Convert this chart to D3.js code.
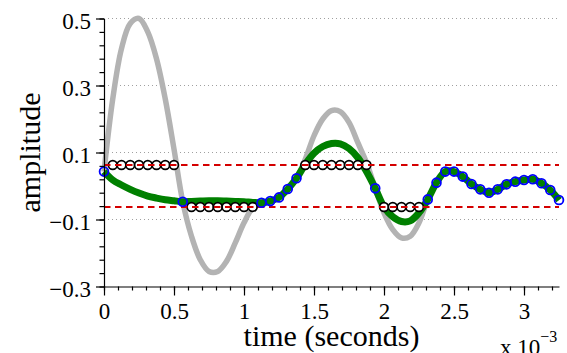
<!DOCTYPE html>
<html>
<head>
<meta charset="utf-8">
<script src="https://cdn.jsdelivr.net/npm/d3@7"></script>
<style>
  body { margin: 0; background: #fff; }
  svg { display: block; }
  text { font-family: "Liberation Serif", "Times New Roman", serif; fill: #000; }
</style>
</head>
<body>
<svg id="chart" width="567" height="353"></svg>
<script>
// sample grid: 16 kHz -> 0.0625 ms per sample
const sampleStepMs = 0.0625;
const sampleIndex = d3.range(53);

// original (continuous) signal, read at the sample instants
const originalValues = [
  0.043, 0.26, 0.41, 0.485, 0.50, 0.46, 0.38, 0.26, 0.11, -0.047,
  -0.15, -0.22, -0.255, -0.255, -0.225, -0.17, -0.11, -0.065, -0.05, -0.045,
  -0.034, -0.009, 0.023, 0.08, 0.15, 0.20, 0.225, 0.222, 0.19, 0.13,
  0.07, -0.007, -0.08, -0.13, -0.155, -0.15, -0.11, -0.04, 0.010, 0.043,
  0.043, 0.028, 0.006, -0.010, -0.020, -0.010, 0.005, 0.013, 0.018, 0.020,
  0.008, -0.012, -0.042
];

// reconstructed signal (green)
const reconValues = [
  0.043, 0.018, 0.003, -0.010, -0.021, -0.030, -0.036, -0.041, -0.044, -0.047,
  -0.046, -0.045, -0.044, -0.044, -0.045, -0.046, -0.047, -0.049, -0.050, -0.045,
  -0.034, -0.009, 0.023, 0.065, 0.098, 0.118, 0.127, 0.126, 0.112, 0.085,
  0.043, -0.007, -0.062, -0.092, -0.106, -0.104, -0.080, -0.040, 0.010, 0.043,
  0.043, 0.028, 0.006, -0.010, -0.020, -0.010, 0.005, 0.013, 0.018, 0.020,
  0.008, -0.012, -0.042
];

const clipLevel = 0.0625;
const xTicks = [0, 0.5, 1, 1.5, 2, 2.5, 3];
const yTicks = [-0.3, -0.1, 0.1, 0.3, 0.5];

const svg = d3.select("#chart");

const x = d3.scaleLinear().domain([0, 3.25]).range([104, 559]);
const y = d3.scaleLinear().domain([-0.3, 0.5]).range([286.5, 18.5]);

const samples = sampleIndex.map(i => ({
  t: i * sampleStepMs,
  orig: originalValues[i],
  recon: reconValues[i],
  clipped: Math.abs(originalValues[i]) >= clipLevel
}));

// dotted horizontal grid
svg.append("g")
  .selectAll("line")
  .data(yTicks.filter(d => d > -0.3))
  .enter().append("line")
  .attr("x1", x(0)).attr("x2", x(3.25))
  .attr("y1", d => y(d)).attr("y2", d => y(d))
  .attr("stroke", "#a0a0a0")
  .attr("stroke-width", 1)
  .attr("stroke-dasharray", "1,3");

const line = (key) => d3.line()
  .x(d => x(d.t))
  .y(d => y(d[key]))
  .curve(d3.curveCatmullRom);

svg.append("path")
  .datum(samples)
  .attr("fill", "none")
  .attr("stroke", "#b3b3b3")
  .attr("stroke-width", 5.5)
  .attr("d", line("orig"));

svg.append("path")
  .datum(samples)
  .attr("fill", "none")
  .attr("stroke", "#008000")
  .attr("stroke-width", 7)
  .attr("d", line("recon"));

// clipped samples
svg.append("g")
  .selectAll("circle")
  .data(samples.filter(d => d.clipped))
  .enter().append("circle")
  .attr("cx", d => x(d.t))
  .attr("cy", d => y(d.orig > 0 ? clipLevel : -clipLevel))
  .attr("r", 4.4)
  .attr("fill", "#fff")
  .attr("stroke", "#000")
  .attr("stroke-width", 1.7);

// clip thresholds
svg.append("g")
  .selectAll("line")
  .data([clipLevel, -clipLevel])
  .enter().append("line")
  .attr("x1", x(0)).attr("x2", x(3.25))
  .attr("y1", d => y(d)).attr("y2", d => y(d))
  .attr("stroke", "#d40000")
  .attr("stroke-width", 2)
  .attr("stroke-dasharray", "6.5,4.5");

// reliable samples
svg.append("g")
  .selectAll("circle")
  .data(samples.filter(d => !d.clipped))
  .enter().append("circle")
  .attr("cx", d => x(d.t))
  .attr("cy", d => y(d.orig))
  .attr("r", 4.4)
  .attr("fill", "none")
  .attr("stroke", "#0000ff")
  .attr("stroke-width", 1.8);

// axes
const fmtY = d3.format(".1f");
const yAxis = svg.append("g")
  .attr("transform", "translate(" + x(0) + ",0)")
  .call(d3.axisLeft(y).tickValues(yTicks).tickSize(8).tickSizeOuter(0).tickPadding(5).tickFormat(fmtY));
yAxis.selectAll("text").attr("dy", "0.42em").style("font-size", "23px");

svg.append("g")
  .attr("transform", "translate(" + x(0) + ",0)")
  .call(d3.axisLeft(y).tickValues(d3.range(-0.3, 0.5001, 0.04)).tickSize(4.5).tickSizeOuter(0).tickFormat(""))
  .select(".domain").remove();

const xAxis = svg.append("g")
  .attr("transform", "translate(0," + y(-0.3) + ")")
  .call(d3.axisBottom(x).tickValues(xTicks).tickSize(9).tickSizeOuter(0).tickPadding(7).tickFormat(d3.format("~g")));
xAxis.selectAll("text").style("font-size", "23px");

svg.append("g")
  .attr("transform", "translate(0," + y(-0.3) + ")")
  .call(d3.axisBottom(x).tickValues(d3.range(0, 3.2501, 0.1)).tickSize(4).tickSizeOuter(0).tickFormat(""))
  .select(".domain").remove();

svg.selectAll("g").attr("font-family", null).attr("font-size", null);
svg.selectAll(".domain, .tick line").attr("stroke", "#000").attr("stroke-width", 1.2);

// titles
svg.append("text")
  .attr("x", (x.range()[0] + x.range()[1]) / 2)
  .attr("y", 346)
  .attr("text-anchor", "middle")
  .style("font-size", "30px")
  .text("time (seconds)");

svg.append("text")
  .attr("transform", "translate(40," + (y.range()[0] + y.range()[1]) / 2 + ") rotate(-90)")
  .attr("text-anchor", "middle")
  .style("font-size", "30px")
  .text("amplitude");

const expo = svg.append("text")
  .attr("x", 500)
  .attr("y", 355)
  .style("font-size", "23px");
expo.append("tspan").text("x 10");
expo.append("tspan").attr("dy", -13).style("font-size", "16px").text("−3");
</script>
</body>
</html>
